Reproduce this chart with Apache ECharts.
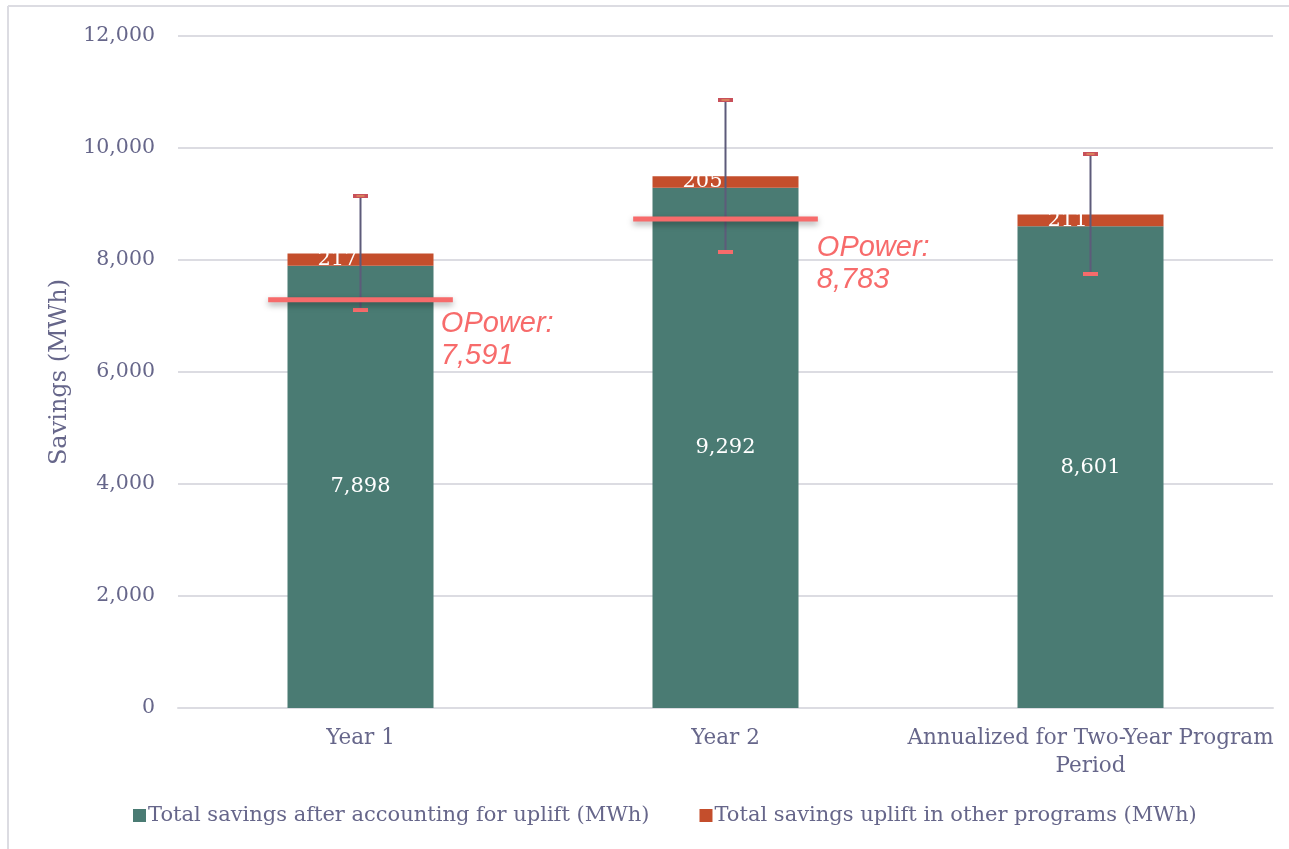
<!DOCTYPE html>
<html><head><meta charset="utf-8">
<script src="https://cdn.jsdelivr.net/npm/echarts@6/dist/echarts.min.js"></script>
<style>html,body{margin:0;padding:0;background:#fff}#c{width:1289px;height:849px}</style>
</head><body><div id="c"></div>
<script>
const categories = ['Year 1', 'Year 2', 'Annualized for Two-Year Program\nPeriod'];
const savingsAfterUplift = [7898, 9292, 8601];
const upliftOther = [217, 205, 211];
const errorLow = [7107, 8143, 7750];
const errorHigh = [9143, 10857, 9893];
const opowerLinePos = [7290, 8730];
const opowerValues = ['7,591', '8,783'];
const yTicks = { min: 0, max: 12000, interval: 2000 };

const textColor = '#66668a';
const serif = '"DejaVu Serif", "Liberation Serif", serif';
const labelDx = [-12, -1];
const labelDy = [8, 13];
const chart = echarts.init(document.getElementById('c'));

const errData = categories.map((c, i) => [i, errorLow[i], errorHigh[i]]);
const opData = opowerLinePos.map((v, i) => [i, v, opowerValues[i]]);

chart.setOption({
  animation: false,
  graphic: [
    { type: 'line', shape: { x1: 8, y1: 6, x2: 1289, y2: 6 }, style: { stroke: '#dcdce2', lineWidth: 2 } },
    { type: 'line', shape: { x1: 8, y1: 6, x2: 8, y2: 849 }, style: { stroke: '#dcdce2', lineWidth: 2 } }
  ],
  grid: { left: 178, right: 16, top: 36, bottom: 141 },
  legend: {
    bottom: 18, left: 128, itemWidth: 13, itemHeight: 13, itemGap: 50,
    icon: 'rect',
    textStyle: { color: textColor, fontSize: 21, fontFamily: serif, padding: [0, 0, 0, -3] },
    data: ['Total savings after accounting for uplift (MWh)', 'Total savings uplift in other programs (MWh)']
  },
  xAxis: {
    type: 'category', data: categories,
    axisLine: { lineStyle: { color: '#dcdce2', width: 2 } },
    axisTick: { show: false },
    axisLabel: { color: textColor, fontSize: 21.5, fontFamily: serif, margin: 16, lineHeight: 28, interval: 0 }
  },
  yAxis: {
    type: 'value', min: yTicks.min, max: yTicks.max, interval: yTicks.interval,
    name: 'Savings (MWh)', nameLocation: 'middle', nameGap: 106,
    nameTextStyle: { color: textColor, fontSize: 24, fontFamily: serif },
    axisLine: { show: false }, axisTick: { show: false },
    splitLine: { lineStyle: { color: '#dcdce2', width: 2 } },
    axisLabel: { color: textColor, fontSize: 20.5, fontFamily: serif, margin: 23,
      formatter: v => v.toLocaleString('en-US') }
  },
  series: [
    {
      name: 'Total savings after accounting for uplift (MWh)', type: 'bar', stack: 's',
      barWidth: '40%', data: savingsAfterUplift,
      itemStyle: { color: '#4a7b73' },
      label: { show: true, position: 'inside', color: '#fff', fontSize: 21, fontFamily: serif,
        formatter: p => p.value.toLocaleString('en-US') }
    },
    {
      name: 'Total savings uplift in other programs (MWh)', type: 'bar', stack: 's',
      barWidth: '40%', data: upliftOther,
      itemStyle: { color: '#c44e2c' },
      label: { show: true, position: 'inside', color: '#fff', fontSize: 21, fontFamily: serif,
        offset: [-23, 0], formatter: p => String(p.value) }
    },
    {
      type: 'custom', name: 'err', z: 5, silent: true,
      data: errData,
      renderItem: (params, api) => {
        const x = api.value(0);
        const lo = api.coord([x, api.value(1)]);
        const hi = api.coord([x, api.value(2)]);
        const w = 15;
        return { type: 'group', children: [
          { type: 'line', shape: { x1: hi[0], y1: hi[1], x2: lo[0], y2: lo[1] }, style: { stroke: '#5d5b7a', lineWidth: 2 } },
          { type: 'rect', shape: { x: hi[0] - w / 2, y: hi[1] - 2, width: w, height: 4 }, style: { fill: '#c8505a' } },
          { type: 'line', shape: { x1: hi[0] - 4, y1: hi[1], x2: hi[0] + 4, y2: hi[1] }, style: { stroke: '#e8b060', lineWidth: 1 } },
          { type: 'rect', shape: { x: lo[0] - w / 2, y: lo[1] - 2, width: w, height: 4 }, style: { fill: '#f76b6b' } }
        ] };
      }
    },
    {
      type: 'custom', name: 'opower', z: 6, silent: true,
      data: opData,
      renderItem: (params, api) => {
        const x = api.value(0);
        const p = api.coord([x, api.value(1)]);
        const cw = api.size([1, 0])[0];
        const half = cw * 0.253;
        const x1 = p[0] - half, x2 = p[0] + half;
        return { type: 'group', children: [
          { type: 'line', shape: { x1: x1, y1: p[1], x2: x2, y2: p[1] },
            style: { stroke: '#f76b6b', lineWidth: 5, shadowBlur: 6, shadowColor: 'rgba(0,0,0,0.35)', shadowOffsetY: 3 } },
          { type: 'text', x: x2 + labelDx[params.dataIndex], y: p[1] + labelDy[params.dataIndex],
            style: { text: 'OPower:\n' + api.value(2), fill: '#f76b6b', font: 'italic 29px "Liberation Sans", Arial, sans-serif',
              lineHeight: 32, align: 'left', verticalAlign: 'top' } }
        ] };
      }
    }
  ]
});
</script></body></html>
